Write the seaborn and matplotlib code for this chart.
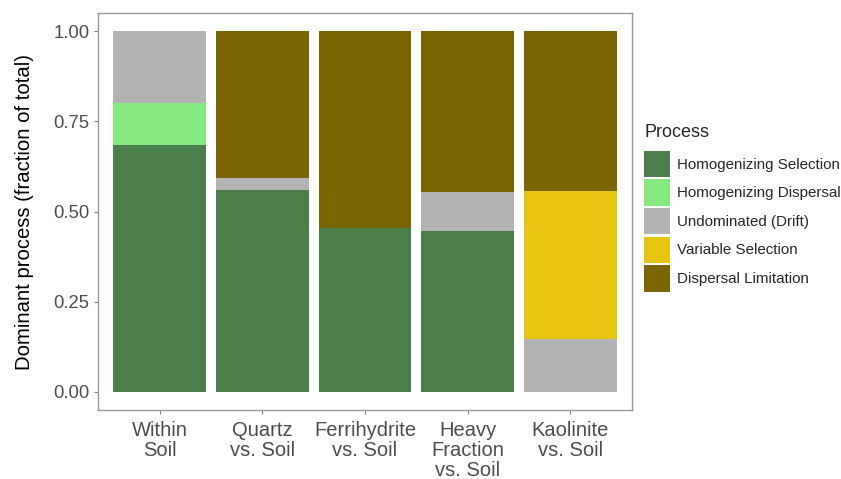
import numpy as np
import pandas as pd
import matplotlib
matplotlib.use('Agg')
import matplotlib.pyplot as plt
import seaborn as sns
from matplotlib.patches import Patch

# data
sites = ['Within\nSoil', 'Quartz\nvs. Soil', 'Ferrihydrite\nvs. Soil',
         'Heavy\nFraction\nvs. Soil', 'Kaolinite\nvs. Soil']
processes = ['Homogenizing Selection', 'Homogenizing Dispersal',
             'Undominated (Drift)', 'Variable Selection', 'Dispersal Limitation']
homog_selection = [0.685, 0.560, 0.454, 0.445, 0.000]
homog_dispersal = [0.115, 0.000, 0.000, 0.000, 0.000]
undominated = [0.200, 0.033, 0.000, 0.110, 0.146]
variable_selection = [0.000, 0.000, 0.000, 0.000, 0.412]
dispersal_limitation = [0.000, 0.407, 0.546, 0.445, 0.442]

colors = ['#4A7F4A', '#85E97F', '#B3B3B3', '#E6C40F', '#7A6502']

sns.set_theme(style='white')
plt.rcParams['font.family'] = ['Liberation Sans', 'DejaVu Sans']

values = np.array([homog_selection, homog_dispersal, undominated,
                   variable_selection, dispersal_limitation])
cum = np.cumsum(values, axis=0)

rows = []
for i, p in enumerate(processes):
    for j, s in enumerate(sites):
        rows.append({'site': s, 'process': p, 'cum': cum[i, j]})
df = pd.DataFrame(rows)

fig = plt.figure(figsize=(8.41, 4.79), dpi=100)
ax = fig.add_axes([98/841, 1 - 410/479, (632 - 98)/841, (410 - 13)/479])

# draw cumulative totals from the top layer down so they stack
order = processes[::-1]
sns.barplot(data=df, x='site', y='cum', hue='process', hue_order=order,
            palette=dict(zip(processes, colors)), dodge=False, width=0.9,
            order=sites, ax=ax, legend=False, saturation=1, linewidth=0,
            edgecolor='none')

ax.set_xlim(-0.6, 4.6)
ax.set_ylim(-0.05, 1.05)
ax.set_yticks([0, 0.25, 0.5, 0.75, 1.0])
ax.set_yticklabels(['0.00', '0.25', '0.50', '0.75', '1.00'])
ax.set_xlabel('')
ax.set_ylabel('Dominant process (fraction of total)', fontsize=14.6,
              color='black', labelpad=14)
ax.tick_params(axis='y', labelsize=13.3, labelcolor='#4D4D4D', length=3,
               color='#7F7F7F', width=0.8, pad=3, left=True)
ax.tick_params(axis='x', labelsize=14.5, labelcolor='#4D4D4D', length=3,
               color='#7F7F7F', width=0.8, pad=5, bottom=True)
for lab in ax.get_xticklabels():
    lab.set_linespacing(1.05)
for sp in ax.spines.values():
    sp.set_color('#9A9A9A')
    sp.set_linewidth(1.0)

handles = [Patch(facecolor=c, edgecolor='none') for c in colors]
leg = fig.legend(handles, processes, title='Process', loc='upper left',
                 bbox_to_anchor=(644/841, 1 - 124/479), frameon=False,
                 fontsize=10.9, title_fontsize=13, handlelength=1.75,
                 handleheight=2.3, labelspacing=0.15, handletextpad=0.4,
                 borderpad=0, borderaxespad=0, alignment='left')
leg._legend_box.sep = 7

fig.savefig('out.png', dpi=100)
